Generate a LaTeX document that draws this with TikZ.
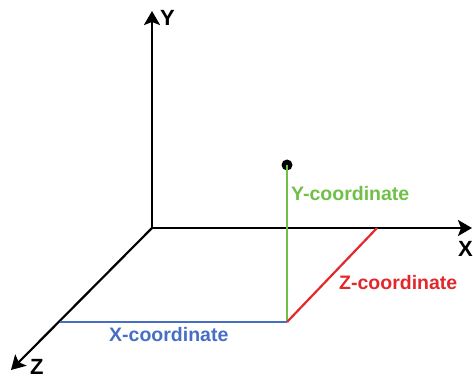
\documentclass[tikz,border=0pt]{standalone}
\usepackage{fontspec}
\setmainfont{Liberation Sans}
\usetikzlibrary{arrows.meta}
\definecolor{ygreen}{RGB}{112,192,72}
\definecolor{zred}{RGB}{226,40,44}
\definecolor{xblue}{RGB}{70,110,196}
\tikzset{
  axis/.style={line width=2.2pt,-{Stealth[length=14pt,width=16pt,inset=3pt]}},
  axislabel/.style={font=\fontsize{22}{24}\selectfont\bfseries,inner sep=0pt},
  coordlabel/.style={font=\fontsize{19.5}{22}\selectfont\bfseries,inner sep=0pt},
  cline/.style={line width=2.2pt}
}
\begin{document}
\begin{tikzpicture}[x=1pt,y=-1pt]
\useasboundingbox (0,0) rectangle (473,379);
\coordinate (O) at (152,228);
\coordinate (Yt) at (152,11);
\coordinate (Xt) at (472,228);
\coordinate (Zt) at (11,370);
\coordinate (P) at (287,322);
\coordinate (Xp) at (59.5,322);
\coordinate (Zp) at (377,228);
\node[circle,fill=black,inner sep=0pt,minimum size=11pt] (D) at (287,165) {};
\draw[axis] (O) -- (Yt);
\draw[axis] (O) -- (Xt);
\draw[axis] (O) -- (Zt);
\draw[cline,ygreen] (P) -- (D.center);
\draw[cline,zred] (P) -- (Zp);
\draw[cline,xblue] (Xp) -- (P);
\node[axislabel,anchor=west] (YL) at (160,18) {Y};
\node[axislabel,anchor=west] (XL) at (458,249) {X};
\node[axislabel,anchor=west] (ZL) at (30,367) {Z};
\node[coordlabel,ygreen,anchor=west] (YC) at (291,194) {Y-coordinate};
\node[coordlabel,zred,anchor=west] (ZC) at (339,283) {Z-coordinate};
\node[coordlabel,xblue,anchor=west] (XC) at (109,335) {X-coordinate};
\end{tikzpicture}
\end{document}
